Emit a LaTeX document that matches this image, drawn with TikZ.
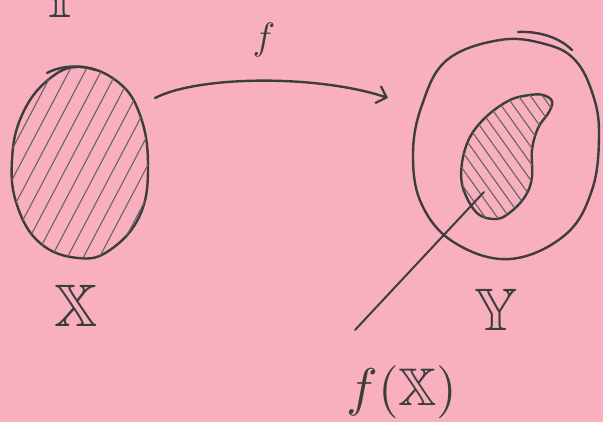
\documentclass[tikz,border=0pt]{standalone}
\usepackage{amssymb}
\usetikzlibrary{arrows.meta}
\definecolor{paper}{RGB}{249,176,190}
\definecolor{pen}{RGB}{60,62,62}
\definecolor{hatch}{RGB}{105,98,100}
\tikzset{
  ink/.style={draw=pen, line width=2.4pt, line cap=round, line join=round},
  hatchline/.style={draw=hatch, line width=1.1pt, line cap=round},
  lbl/.style={text=pen, inner sep=0pt},
}
\begin{document}
\begin{tikzpicture}[x=1pt,y=-1pt]
\fill[paper] (0,0) rectangle (603,422);
\useasboundingbox (0,0) rectangle (603,422);

% left set X
\path[ink] plot[smooth cycle, tension=0.7] coordinates {(80,67) (118,82) (140,115) (148,165) (140,215) (110,250) (78,258) (40,243) (17,205) (12,160) (22,115) (48,80)};
\begin{scope}
\clip plot[smooth cycle, tension=0.7] coordinates {(80,67) (118,82) (140,115) (148,165) (140,215) (110,250) (78,258) (40,243) (17,205) (12,160) (22,115) (48,80)};
\foreach \i in {-110,-94,...,160} {
  \draw[hatchline] (\i,260) -- ++(105,-200);
}
\end{scope}
\draw[ink] (47,73) .. controls (60,66) and (80,64) .. (95,70);

% arrow f
\coordinate (a1) at (155,98);
\coordinate (a2) at (388,98);
\draw[ink, -{Straight Barb[length=9pt,width=18pt,line width=2.2pt]}] (a1) .. controls (200,75) and (320,75) .. (a2);
\node[lbl, scale=3.8] (f) at (264,40) {$f$};

% right set Y
\path[ink] plot[smooth cycle, tension=0.65] coordinates {(500,40) (545,44) (575,60) (593,95) (599,135) (592,190) (565,235) (510,259) (455,243) (422,205) (413,155) (422,105) (447,60)};
\draw[ink] (518,32) .. controls (540,31) and (560,38) .. (572,50);

% f(X) blob
\path[ink] plot[smooth cycle, tension=0.6] coordinates {(543,95) (552,101) (549,112) (538,128) (532,150) (532,177) (526,195) (513,210) (497,219) (477,213) (463,188) (462,163) (470,137) (487,116) (510,100) (530,95)};
\begin{scope}
\clip plot[smooth cycle, tension=0.6] coordinates {(543,95) (552,101) (549,112) (538,128) (532,150) (532,177) (526,195) (513,210) (497,219) (477,213) (463,188) (462,163) (470,137) (487,116) (510,100) (530,95)};
\foreach \i in {380,392,...,560} {
  \draw[hatchline] (\i,70) -- ++(110,154);
}
\end{scope}

% leader line
\coordinate (p1) at (484,192);
\coordinate (p2) at (355,330);
\draw[ink, line width=2pt] (p1) -- (p2);

% labels
\node[lbl, scale=6] (X) at (76,306) {$\mathbb{X}$};
\node[lbl, scale=6] (Y) at (496,310) {$\mathbb{Y}$};
\node[lbl, scale=5.3] (fX) at (402,392) {$f(\mathbb{X})$};
\node[lbl, scale=6] (Ytop) at (60,-3) {$\mathbb{Y}$};
\end{tikzpicture}
\end{document}
